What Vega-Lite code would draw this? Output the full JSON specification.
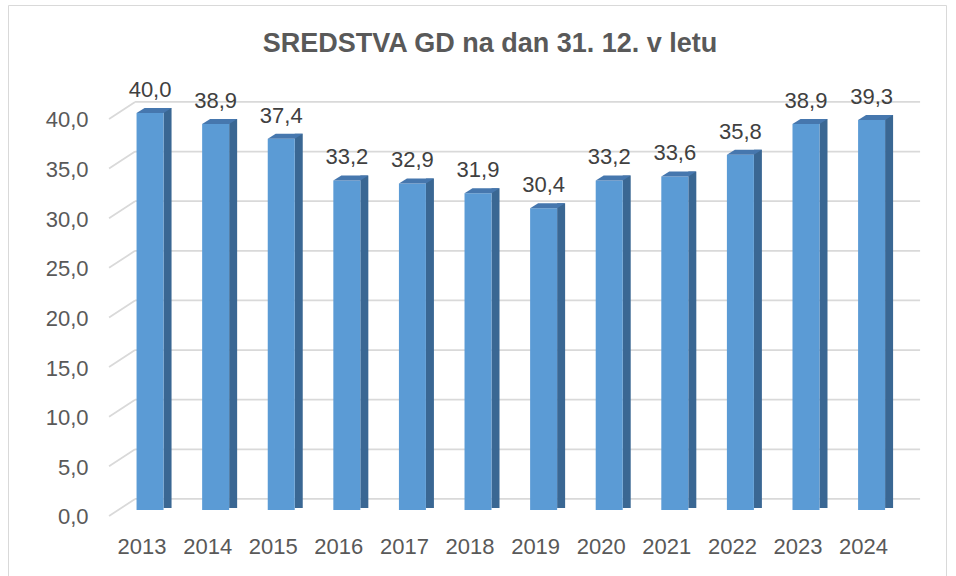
{
  "$schema": "https://vega.github.io/schema/vega-lite/v6.json",
  "width": 938,
  "height": 571,
  "autosize": {"type": "none"},
  "padding": {"left": 8, "top": 5, "right": 10, "bottom": 0},
  "background": "white",
  "config": {
    "view": {"stroke": "#D9D9D9", "strokeWidth": 1},
    "font": "Liberation Sans",
    "locale": {"number": {"decimal": ",", "thousands": ".", "grouping": [3], "currency": ["", " €"]}},
    "axisX": {"domain": false, "ticks": false, "tickSize": 0, "grid": false, "labelPadding": 0, "offset": -23, "labelBaseline": "alphabetic", "labelOffset": -8, "labelFontSize": 22, "labelColor": "#595959", "labelAngle": 0, "labelFont": "Liberation Sans"},
    "axisY": {"domain": false, "ticks": false, "tickSize": 0, "grid": false, "labelPadding": 0, "offset": -80, "labelBaseline": "alphabetic", "labelOffset": 25, "labelFontSize": 22, "labelColor": "#595959", "labelFont": "Liberation Sans"}
  },
  "title": {
    "text": "SREDSTVA GD na dan 31. 12. v letu",
    "font": "Liberation Sans",
    "fontSize": 27,
    "fontWeight": "bold",
    "color": "#595959",
    "anchor": "middle",
    "baseline": "alphabetic",
    "offset": -74,
    "dx": 13
  },
  "datasets": {
    "bars": [
      {"year": "2013", "value": 40.0},
      {"year": "2014", "value": 38.9},
      {"year": "2015", "value": 37.4},
      {"year": "2016", "value": 33.2},
      {"year": "2017", "value": 32.9},
      {"year": "2018", "value": 31.9},
      {"year": "2019", "value": 30.4},
      {"year": "2020", "value": 33.2},
      {"year": "2021", "value": 33.6},
      {"year": "2022", "value": 35.8},
      {"year": "2023", "value": 38.9},
      {"year": "2024", "value": 39.3}
    ],
    "grid": [
      {"tick": 0}, {"tick": 5}, {"tick": 10}, {"tick": 15}, {"tick": 20},
      {"tick": 25}, {"tick": 30}, {"tick": 35}, {"tick": 40}
    ]
  },
  "layer": [
    {
      "data": {"name": "grid"},
      "mark": {"type": "rule", "color": "#D9D9D9", "strokeWidth": 1.75, "xOffset": 17.8, "x2Offset": 15.7},
      "encoding": {
        "x": {"datum": "2013", "bandPosition": 0, "type": "nominal", "title": null, "scale": {"type": "band", "domain": ["", "2013","2014","2015","2016","2017","2018","2019","2020","2021","2022","2023","2024"], "paddingInner": 0, "paddingOuter": 0.65, "align": 0.512}, "axis": {"values": ["2013","2014","2015","2016","2017","2018","2019","2020","2021","2022","2023","2024"], "title": null}},
        "x2": {"datum": "2024", "bandPosition": 1},
        "y": {"field": "tick", "type": "quantitative", "title": null, "scale": {"domain": [-7.76, 49.77], "nice": false, "zero": false}, "axis": {"values": [0, 5, 10, 15, 20, 25, 30, 35, 40], "format": ".1f", "title": null}}
      }
    },
    {
      "data": {"name": "grid"},
      "mark": {"type": "rule", "color": "#D9D9D9", "strokeWidth": 1.75, "xOffset": -8.2, "x2Offset": 17.8, "yOffset": 17},
      "encoding": {
        "x": {"datum": "2013", "bandPosition": 0, "type": "nominal", "title": null},
        "x2": {"datum": "2013", "bandPosition": 0},
        "y": {"field": "tick", "type": "quantitative", "title": null},
        "y2": {"field": "tick"}
      }
    },
    {
      "data": {"name": "bars"},
      "mark": {"type": "bar", "width": 8, "color": "#3A6793", "xOffset": 17.5, "yOffset": 6, "y2Offset": 9},
      "encoding": {
        "x": {"field": "year", "type": "nominal", "title": null},
        "y": {"field": "value", "type": "quantitative", "stack": null, "title": null},
        "y2": {"datum": 0}
      }
    },
    {
      "data": {"name": "bars"},
      "mark": {"type": "bar", "width": 27, "color": "#5B9BD5", "yOffset": 11, "y2Offset": 11},
      "encoding": {
        "x": {"field": "year", "type": "nominal", "title": null},
        "y": {"field": "value", "type": "quantitative", "stack": null, "title": null},
        "y2": {"datum": 0}
      }
    },
    {
      "data": {"name": "bars"},
      "mark": {"type": "point", "shape": "M -13.5 0 L 13.5 0 L 21.5 -5 L -5.5 -5 Z", "size": 4, "filled": true, "opacity": 1, "strokeWidth": 0, "color": "#4677AE", "yOffset": 11},
      "encoding": {
        "x": {"field": "year", "type": "nominal", "title": null},
        "y": {"field": "value", "type": "quantitative", "title": null}
      }
    },
    {
      "data": {"name": "bars"},
      "mark": {"type": "text", "fontSize": 22, "color": "#404040", "baseline": "alphabetic", "align": "center", "yOffset": -5},
      "encoding": {
        "x": {"field": "year", "type": "nominal", "title": null},
        "y": {"field": "value", "type": "quantitative", "title": null},
        "text": {"field": "value", "type": "quantitative", "format": ".1f"}
      }
    }
  ]
}
